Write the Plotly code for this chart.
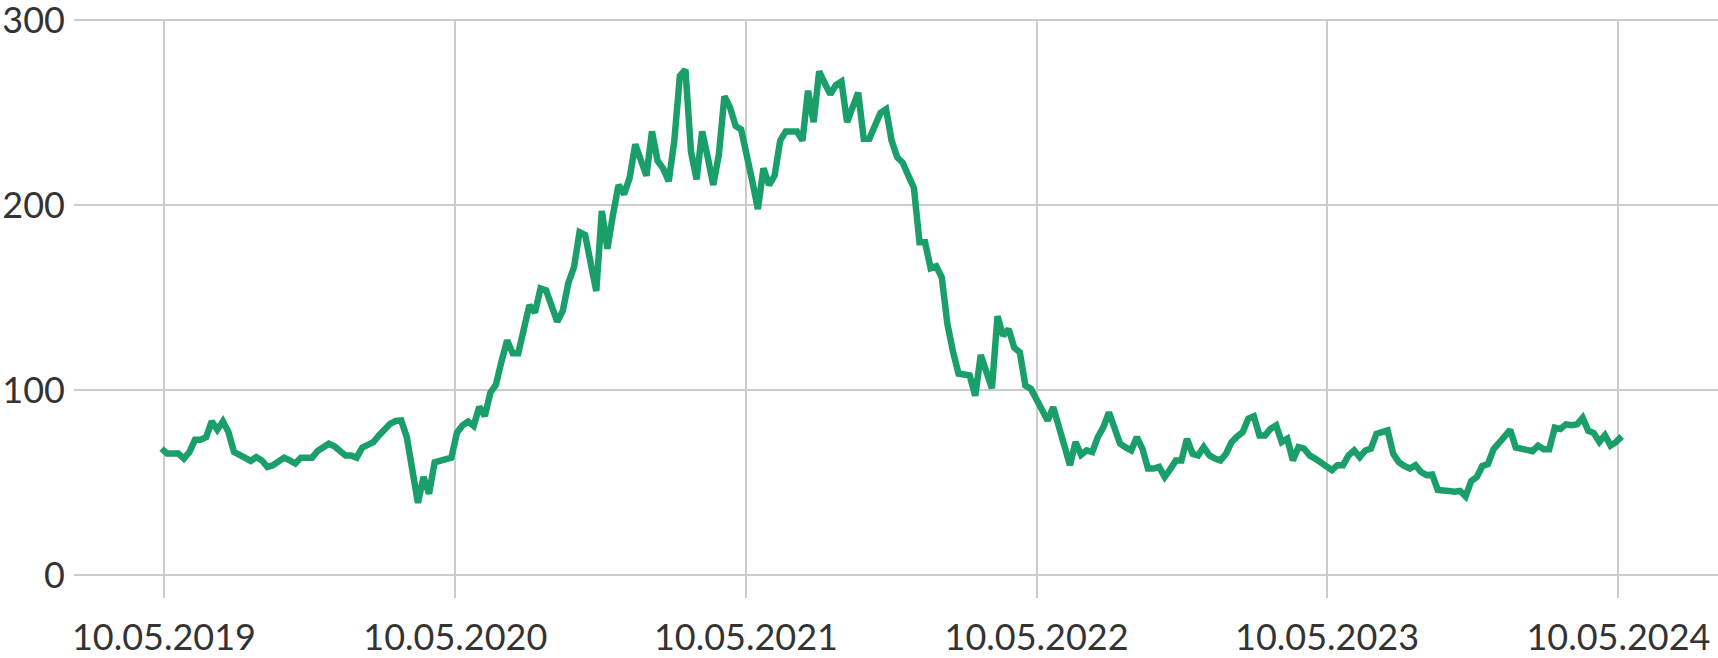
import pandas as pd
import plotly.graph_objects as go

# Weekly observations, first week starting 2019-05-07
start_date = "2019-05-07"

values_y1 = [68.4, 65.7, 65.7, 65.7, 63, 66.5, 73.2, 73.2, 74.6, 83.1,
             78.6, 83.1, 77.3, 66.5, 65, 63.8, 61.7, 63.8, 62, 58.4,
             59.4, 61.5, 63.5, 62, 60.3, 63.5, 63.5, 63.5, 67.1, 69,
             71, 69.6, 67, 64.7, 64.7, 63.5, 68.9, 70.7, 71.9, 75.5,
             78.5, 81.8, 83.3, 83.6, 74.6, 58, 39, 53, 44, 61,
             62, 63, 63.5]
values_y2 = [77, 81, 83, 80.6, 91, 86, 98.6, 103, 115.6, 127,
             120, 120, 133, 146, 142, 155, 154, 146, 137, 143,
             158, 166.5, 185.5, 184, 169.5, 153.6, 197, 176.5, 195, 211,
             206, 215, 233, 225, 216, 240, 224, 220, 213, 234.7,
             270, 273.4, 229, 214, 240, 226, 211, 227.5, 259, 253,
             243, 241]
values_y3 = [228, 213, 198, 220, 211, 216, 235, 240, 240, 240,
             235, 262, 245, 272.5, 266, 260, 265, 267, 245, 252,
             261, 236, 236, 243, 250, 252, 235, 226, 223, 216,
             209.5, 180, 180, 166, 167, 161, 136, 121, 109, 108.5,
             108, 97, 119, 110, 101, 140, 129.5, 133, 123, 120.5,
             102.5, 100.7]
values_y4 = [95, 88, 83.6, 90.8, 80, 72, 59.4, 72, 65, 67.4,
             66.5, 74.6, 80, 88, 79.7, 71, 69, 67.4, 74.6, 68.4,
             57.6, 57.6, 58.5, 53.1, 57.3, 62, 62, 73.7, 65.6, 64.7,
             69.2, 64.7, 63, 62, 65.6, 71.9, 75, 77.3, 84.5, 85.8,
             75.5, 75.5, 79.1, 80.9, 71.9, 73.7, 62, 69.2, 68.4, 64.7,
             63, 61]
values_y5 = [58.5, 56.7, 59.4, 59.4, 64.7, 67.4, 63.8, 67.4, 68.4, 76.4,
             77.3, 78.2, 65.6, 61.1, 59, 57.6, 59.4, 55.7, 54, 54.4,
             46, 46, 45.5, 45, 45.5, 42.5, 50.8, 53, 59, 60,
             68, 71.5, 75.6, 78.5, 69, 68.5, 68, 67, 70, 68,
             68, 79.7, 79, 81.5, 81, 81.5, 85, 78, 76.8, 72,
             75.6, 70, 72, 75]

values = values_y1 + values_y2 + values_y3 + values_y4 + values_y5
dates = pd.date_range(start_date, periods=len(values), freq="7D")

tick_dates = ["2019-05-10", "2020-05-10", "2021-05-10",
              "2022-05-10", "2023-05-10", "2024-05-10"]
tick_labels = ["10.05.2019", "10.05.2020", "10.05.2021",
               "10.05.2022", "10.05.2023", "10.05.2024"]
y_ticks = [0, 100, 200, 300]

fig = go.Figure()
fig.add_trace(go.Scatter(
    x=dates, y=values, mode="lines",
    line=dict(color="#1a9e6a", width=6.5),
    hoverinfo="skip",
))

grid = "#cccccc"
fig.update_layout(
    width=1718, height=658,
    margin=dict(l=74, r=0, t=19, b=83),
    paper_bgcolor="white", plot_bgcolor="white",
    showlegend=False,
    font=dict(family="Lato", size=36, color="#333333"),
    xaxis=dict(
        range=["2019-01-17", "2024-09-12"],
        tickvals=tick_dates, ticktext=tick_labels,
        showgrid=True, gridcolor=grid, gridwidth=2,
        ticks="outside", ticklen=22, tickcolor=grid, tickwidth=2,
        showline=False, zeroline=False,
        ticklabelstandoff=9,
        ticklabeloverflow="allow",
        automargin=False,
        tickfont=dict(size=36),
    ),
    yaxis=dict(
        range=[0, 300.8],
        tickvals=y_ticks,
        showgrid=True, gridcolor=grid, gridwidth=2,
        zeroline=True, zerolinecolor=grid, zerolinewidth=2,
        showline=False, ticks="",
        ticklabelstandoff=8,
        ticklabeloverflow="allow",
        automargin=False,
        tickfont=dict(size=36),
    ),
)

fig.write_html(
    "out.html",
    config={"displayModeBar": False, "staticPlot": True},
    post_script="document.body.style.margin='0';document.body.style.overflow='hidden';",
)
